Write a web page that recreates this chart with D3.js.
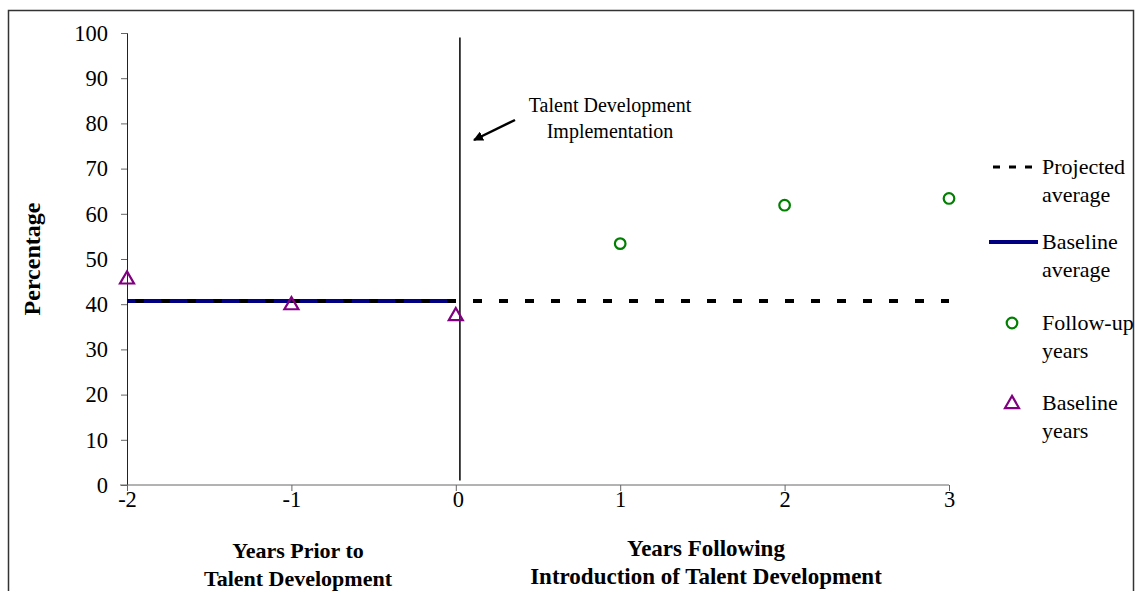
<!DOCTYPE html>
<html>
<head>
<meta charset="utf-8">
<script src="https://cdn.jsdelivr.net/npm/d3@7"></script>
<style>
  body { margin: 0; background: #fff; }
  text { font-family: "Liberation Serif", "Times New Roman", serif; fill: #000; }
</style>
</head>
<body>
<div id="chart"></div>
<script>
// data
const baselineYears = [-2, -1, 0];
const baselineValues = [45.7, 40.0, 37.6];
const followYears = [1, 2, 3];
const followValues = [53.4, 61.9, 63.4];
const baselineAverage = 40.7;
const xTicks = [-2, -1, 0, 1, 2, 3];
const yTicks = [0, 10, 20, 30, 40, 50, 60, 70, 80, 90, 100];
const implementationYear = 0.025;

let width = 1135,
        height = 591;
let margin = { left: 127, right: 186, top: 33, bottom: 106 };

let svg = d3.select("#chart").append("svg")
        .attr("width", width)
        .attr("height", height);

// outer chart frame
svg.append("rect").attr("x", 8.5).attr("y", 10.5)
        .attr("width", 1125).attr("height", 600)
        .attr("fill", "none").attr("stroke", "#333").attr("stroke-width", 1.5);

let x = d3.scaleLinear().domain([-2, 3]).range([margin.left, width - margin.right]);
let y = d3.scaleLinear().domain([0, 100]).range([height - margin.bottom, margin.top]);

// y axis
let yAxis = svg.append("g").attr("transform", "translate(" + margin.left + ",0)")
        .call(d3.axisLeft(y).tickValues(yTicks).tickSize(6).tickPadding(13));
yAxis.select(".domain").attr("stroke", "#222");
yAxis.selectAll(".tick line").attr("stroke", "#666");
yAxis.selectAll(".tick text").style("font-size", "22.5px").style("font-family", "Liberation Serif").attr("fill", "#000");

// x axis
let xAxis = svg.append("g").attr("transform", "translate(0," + y(0) + ")")
        .call(d3.axisBottom(x).tickValues(xTicks).tickSize(6).tickPadding(0).tickFormat(d => String(d)));
xAxis.select(".domain").attr("d", "M" + (margin.left - 7) + ",0H" + x(3)).attr("stroke", "#666");
xAxis.selectAll(".tick line").attr("stroke", "#666");
xAxis.selectAll(".tick text").style("font-size", "22.5px").style("font-family", "Liberation Serif").attr("fill", "#000");
xAxis.selectAll(".tick").filter(d => d === 0).select("text").attr("dx", 2);

// implementation line
svg.append("line")
        .attr("x1", x(implementationYear)).attr("x2", x(implementationYear))
        .attr("y1", y(99)).attr("y2", y(1))
        .attr("stroke", "#000").attr("stroke-width", 1.5);

// baseline average (solid navy)
svg.append("line")
        .attr("x1", x(-2)).attr("x2", x(0))
        .attr("y1", y(baselineAverage)).attr("y2", y(baselineAverage))
        .attr("stroke", "#000080").attr("stroke-width", 4);

// projected average (dashed black)
svg.append("line")
        .attr("x1", x(-2)).attr("x2", x(3))
        .attr("y1", y(baselineAverage)).attr("y2", y(baselineAverage))
        .attr("stroke", "#000").attr("stroke-width", 4)
        .attr("stroke-dasharray", "9,17").attr("stroke-dashoffset", -8);

let tri = d3.symbol().type(d3.symbolTriangle).size(85);

// baseline years
svg.append("g").selectAll("path")
        .data(baselineYears.map((d, i) => ({ year: d, value: baselineValues[i] })))
        .enter().append("path")
        .attr("d", tri)
        .attr("transform", d => "translate(" + x(d.year) + "," + (y(d.value) + 1) + ")")
        .attr("fill", "none").attr("stroke", "#800080").attr("stroke-width", 2.2);

// follow-up years
svg.append("g").selectAll("circle")
        .data(followYears.map((d, i) => ({ year: d, value: followValues[i] })))
        .enter().append("circle")
        .attr("cx", d => x(d.year)).attr("cy", d => y(d.value))
        .attr("r", 5.3)
        .attr("fill", "none").attr("stroke", "#008000").attr("stroke-width", 2.2);

// annotation
let note = svg.append("text").attr("text-anchor", "middle").style("font-size", "20px");
note.append("tspan").attr("x", 610).attr("y", 112).text("Talent Development");
note.append("tspan").attr("x", 610).attr("y", 138).text("Implementation");
svg.append("defs").append("marker").attr("id", "arrow")
        .attr("viewBox", "0 0 10 10").attr("refX", 9).attr("refY", 5)
        .attr("markerWidth", 4).attr("markerHeight", 4).attr("orient", "auto")
        .append("path").attr("d", "M0,0L10,5L0,10z").attr("fill", "#000");
svg.append("line").attr("x1", 515).attr("y1", 120).attr("x2", 474).attr("y2", 140)
        .attr("stroke", "#000").attr("stroke-width", 2.5).attr("marker-end", "url(#arrow)");

// axis titles
svg.append("text").attr("transform", "translate(40," + y(50) + ") rotate(-90)")
        .attr("text-anchor", "middle").style("font-size", "24px").style("font-weight", "bold")
        .text("Percentage");
let t1 = svg.append("text").attr("text-anchor", "middle").style("font-size", "22px").style("font-weight", "bold");
t1.append("tspan").attr("x", 298).attr("y", 558).text("Years Prior to");
t1.append("tspan").attr("x", 298).attr("y", 586).text("Talent Development");
let t2 = svg.append("text").attr("text-anchor", "middle").style("font-size", "23px").style("font-weight", "bold");
t2.append("tspan").attr("x", 706).attr("y", 556).text("Years Following");
t2.append("tspan").attr("x", 706).attr("y", 584).text("Introduction of Talent Development");

// legend
let legendItems = [
        { label: ["Projected", "average"], kind: "dash", y: 167 },
        { label: ["Baseline", "average"], kind: "solid", y: 242 },
        { label: ["Follow-up", "years"], kind: "circle", y: 323 },
        { label: ["Baseline", "years"], kind: "triangle", y: 403 }
];
let legend = svg.append("g").selectAll("g").data(legendItems).enter().append("g")
        .attr("transform", d => "translate(0," + d.y + ")");
legend.each(function (d) {
        let g = d3.select(this);
        if (d.kind === "dash") {
                g.append("line").attr("x1", 993).attr("x2", 1032).attr("y1", 0).attr("y2", 0)
                        .attr("stroke", "#000").attr("stroke-width", 3).attr("stroke-dasharray", "7,9");
        } else if (d.kind === "solid") {
                g.append("line").attr("x1", 989).attr("x2", 1038).attr("y1", 0).attr("y2", 0)
                        .attr("stroke", "#000080").attr("stroke-width", 4);
        } else if (d.kind === "circle") {
                g.append("circle").attr("cx", 1012).attr("cy", 0).attr("r", 5.3)
                        .attr("fill", "none").attr("stroke", "#008000").attr("stroke-width", 2.2);
        } else {
                g.append("path").attr("d", tri).attr("transform", "translate(1012,1)")
                        .attr("fill", "none").attr("stroke", "#800080").attr("stroke-width", 2.2);
        }
        let t = g.append("text").style("font-size", "22px");
        t.append("tspan").attr("x", 1042).attr("y", 7).text(d.label[0]);
        t.append("tspan").attr("x", 1042).attr("y", 35).text(d.label[1]);
});
</script>
</body>
</html>
